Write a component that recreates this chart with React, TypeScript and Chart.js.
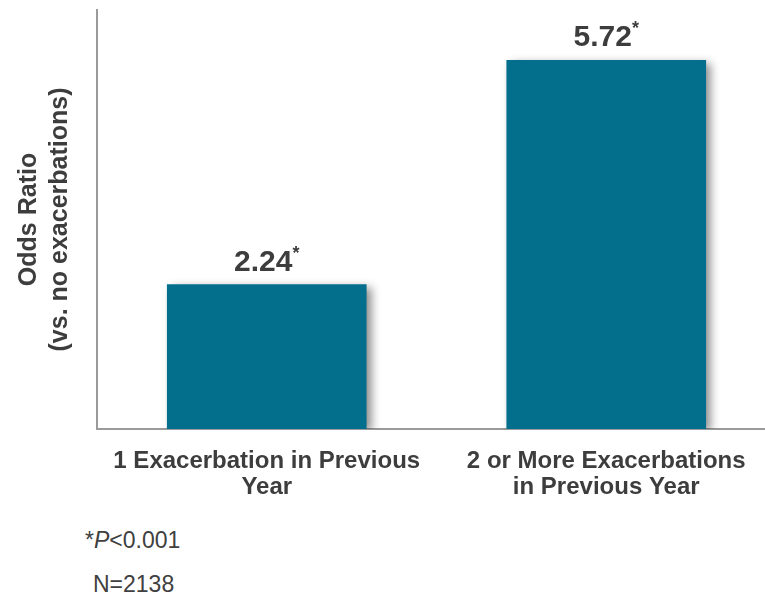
import React, { useEffect, useRef } from 'react';
import { Chart, registerables } from 'chart.js';

Chart.register(...registerables);

const categories: string[][] = [
  ['1 Exacerbation in Previous', 'Year'],
  ['2 or More Exacerbations', 'in Previous Year'],
];
const oddsRatios: number[] = [2.24, 5.72];
const valueLabels: string[] = ['2.24', '5.72'];
const significanceMarks: string[] = ['*', '*'];
const yAxisTitle: string[] = ['Odds Ratio', '(vs. no exacerbations)'];
const yMin = 0;
const yMax = 6.5;

const FONT = "'Liberation Sans', Arial, Helvetica, sans-serif";
const TEXT = '#3d3d3d';
const BAR = '#046f8c';
const AXIS = '#9a9a9a';

const shadowAndLabels = {
  id: 'shadowAndLabels',
  beforeDatasetsDraw(chart: any) {
    const ctx = chart.ctx;
    ctx.save();
    ctx.shadowColor = 'rgba(0,0,0,0.45)';
    ctx.shadowBlur = 9;
    ctx.shadowOffsetX = 5;
    ctx.shadowOffsetY = 3;
  },
  afterDatasetsDraw(chart: any) {
    const ctx = chart.ctx;
    ctx.restore();
    const meta = chart.getDatasetMeta(0);
    meta.data.forEach((bar: any, i: number) => {
      const main = valueLabels[i];
      const mark = significanceMarks[i];
      ctx.save();
      ctx.fillStyle = TEXT;
      ctx.textBaseline = 'alphabetic';
      ctx.textAlign = 'left';
      ctx.font = `bold 30px ${FONT}`;
      const w1 = ctx.measureText(main).width;
      ctx.font = `bold 18px ${FONT}`;
      const w2 = ctx.measureText(mark).width;
      const total = w1 + w2;
      const x0 = bar.x - total / 2;
      const baseY = bar.y - 14;
      ctx.font = `bold 30px ${FONT}`;
      ctx.fillText(main, x0, baseY);
      ctx.font = `bold 18px ${FONT}`;
      ctx.fillText(mark, x0 + w1, baseY - 12);
      ctx.restore();
    });
  },
};

export default function App() {
  const ref = useRef<HTMLCanvasElement | null>(null);

  useEffect(() => {
    if (!ref.current) return;
    const chart = new Chart(ref.current, {
      type: 'bar',
      data: {
        datasets: [
          {
            data: oddsRatios.map((v, i) => ({ x: i, y: v })),
            backgroundColor: BAR,
            borderWidth: 0,
            barThickness: 199,
          },
        ],
      },
      options: {
        responsive: false,
        animation: false,
        events: [],
        layout: { padding: { top: 10, right: 0, left: 0, bottom: 0 } },
        plugins: {
          legend: { display: false },
          tooltip: { enabled: false },
        },
        scales: {
          x: {
            type: 'linear',
            min: -0.5,
            max: 1.4676,
            offset: false,
            grid: { display: false, drawTicks: false },
            border: { display: true, color: AXIS, width: 2 },
            afterBuildTicks: (s: any) => {
              s.ticks = categories.map((_, i) => ({ value: i }));
            },
            afterFit: (s: any) => {
              s.height = 76;
              s.paddingLeft = 0;
              s.paddingRight = 0;
            },
            ticks: {
              autoSkip: false,
              maxRotation: 0,
              minRotation: 0,
              padding: 19,
              color: TEXT,
              font: { family: FONT, size: 24, weight: 'bold', lineHeight: 1.1 },
              callback: (v: any) => categories[Math.round(Number(v))] ?? '',
            },
          },
          y: {
            min: yMin,
            max: yMax,
            grid: { display: false, drawTicks: false },
            border: { display: true, color: AXIS, width: 2 },
            ticks: { display: false },
            afterFit: (s: any) => {
              s.width = 97;
            },
            title: {
              display: true,
              text: yAxisTitle,
              color: TEXT,
              padding: { top: 13, bottom: 0 },
              font: { family: FONT, size: 25, weight: 'bold', lineHeight: 1.25 },
            },
          },
        },
      },
      plugins: [shadowAndLabels],
    } as any);
    return () => chart.destroy();
  }, []);

  const foot: React.CSSProperties = {
    position: 'absolute',
    fontFamily: FONT,
    fontSize: 23,
    lineHeight: '23px',
    color: '#404040',
    whiteSpace: 'nowrap',
  };

  return (
    <div
      style={{
        position: 'fixed',
        left: 0,
        top: 0,
        width: 765,
        height: 595,
        background: '#ffffff',
        overflow: 'hidden',
      }}
    >
      <canvas ref={ref} width={765} height={505} style={{ display: 'block' }} />
      <div style={{ ...foot, left: 85, top: 529 }}>
        *<i>P</i>&lt;0.001
      </div>
      <div style={{ ...foot, left: 93, top: 573 }}>N=2138</div>
    </div>
  );
}
